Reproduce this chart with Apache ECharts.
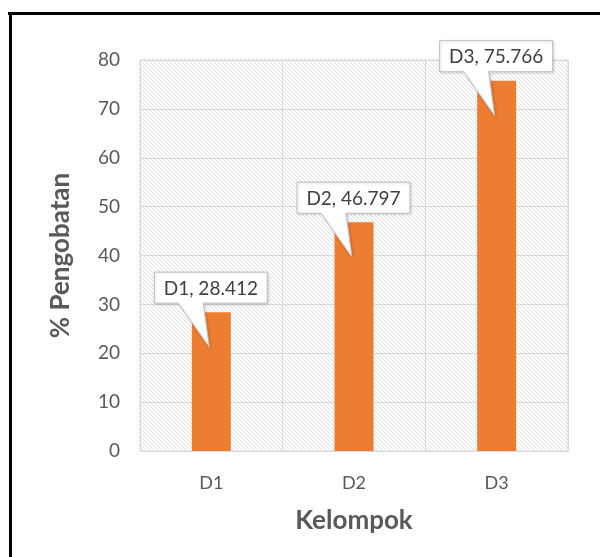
<!DOCTYPE html>
<html>
<head>
<meta charset="utf-8">
<script src="https://cdn.jsdelivr.net/npm/echarts@6/dist/echarts.min.js"></script>
<style>
  html, body { margin: 0; padding: 0; background: #fff; }
  #chart { width: 600px; height: 557px; }
</style>
</head>
<body>
<div id="chart"></div>
<script>
// Treatment percentage per group
const categories = ['D1', 'D2', 'D3'];
const values = [28.412, 46.797, 75.766];
const yTicks = [0, 10, 20, 30, 40, 50, 60, 70, 80];

const FONT = 'Lato';
const LABEL_GRAY = '#595959';

// Light downward-diagonal hatch used as the plot area fill
function hatchPattern() {
  const c = document.createElement('canvas');
  c.width = 4; c.height = 4;
  const g = c.getContext('2d');
  g.fillStyle = '#ffffff';
  g.fillRect(0, 0, 4, 4);
  g.fillStyle = '#e0e0e0';
  for (let i = 0; i < 4; i++) g.fillRect(i, i, 1, 1);
  return { image: c, repeat: 'repeat' };
}

const chart = echarts.init(document.getElementById('chart'), null, { renderer: 'canvas' });

// Callout: rectangle with a wedge pointing down into the bar
function renderCallout(params, api) {
  const idx = api.value(0);
  const top = api.coord([idx, api.value(1)]);
  const cx = top[0], yt = top[1];
  const L = cx - 57, R = cx + 56, T = yt - 40, B = yt - 9;
  const tip = [cx - 2, yt + 35];
  const x1 = cx - 33, x2 = cx - 8;
  const label = categories[idx] + ', ' + values[idx];
  return {
    type: 'group',
    children: [
      {
        type: 'polygon',
        shape: { points: [[L, T], [R, T], [R, B], [x2, B], tip, [x1, B], [L, B]] },
        style: {
          fill: '#ffffff', stroke: '#bfbfbf', lineWidth: 1,
          shadowBlur: 3, shadowColor: 'rgba(0,0,0,0.15)', shadowOffsetX: 1, shadowOffsetY: 1
        }
      },
      {
        type: 'text',
        style: {
          text: label, x: (L + R) / 2, y: (T + B) / 2 + 1,
          align: 'center', verticalAlign: 'middle',
          fill: '#404040', font: '19px ' + FONT
        }
      }
    ]
  };
}

chart.setOption({
  animation: false,
  backgroundColor: '#ffffff',
  grid: {
    left: 140, right: 32, top: 60, bottom: 106,
    show: true,
    backgroundColor: hatchPattern(),
    borderColor: '#d9d9d9', borderWidth: 1
  },
  xAxis: {
    type: 'category',
    data: categories,
    name: 'Kelompok',
    nameLocation: 'middle',
    nameGap: 57,
    nameTextStyle: { fontFamily: FONT, fontSize: 26, fontWeight: 'bold', color: LABEL_GRAY },
    axisLine: { show: true, lineStyle: { color: '#d9d9d9', width: 1 } },
    axisTick: { show: false },
    axisLabel: { margin: 23, fontFamily: FONT, fontSize: 18, color: LABEL_GRAY },
    splitLine: { show: true, lineStyle: { color: '#d9d9d9', width: 1 } }
  },
  yAxis: {
    type: 'value',
    min: yTicks[0],
    max: yTicks[yTicks.length - 1],
    interval: yTicks[1] - yTicks[0],
    name: '% Pengobatan',
    nameLocation: 'middle',
    nameGap: 66,
    nameTextStyle: { fontFamily: FONT, fontSize: 26, fontWeight: 'bold', color: LABEL_GRAY },
    axisLine: { show: false },
    axisTick: { show: false },
    axisLabel: { margin: 20, fontFamily: FONT, fontSize: 19, color: LABEL_GRAY },
    splitLine: { show: true, lineStyle: { color: '#d9d9d9', width: 1 } }
  },
  series: [
    {
      type: 'bar',
      data: values,
      barWidth: 39,
      itemStyle: { color: '#ed7d31' },
      z: 2
    },
    {
      type: 'custom',
      data: values.map((v, i) => [i, v]),
      renderItem: renderCallout,
      z: 5,
      silent: true
    }
  ],
  graphic: [
    { type: 'rect', shape: { x: 8, y: 12, width: 600, height: 3 }, style: { fill: '#000' }, z: 100 },
    { type: 'rect', shape: { x: 9, y: 12, width: 3, height: 560 }, style: { fill: '#000' }, z: 100 }
  ]
});
</script>
</body>
</html>
